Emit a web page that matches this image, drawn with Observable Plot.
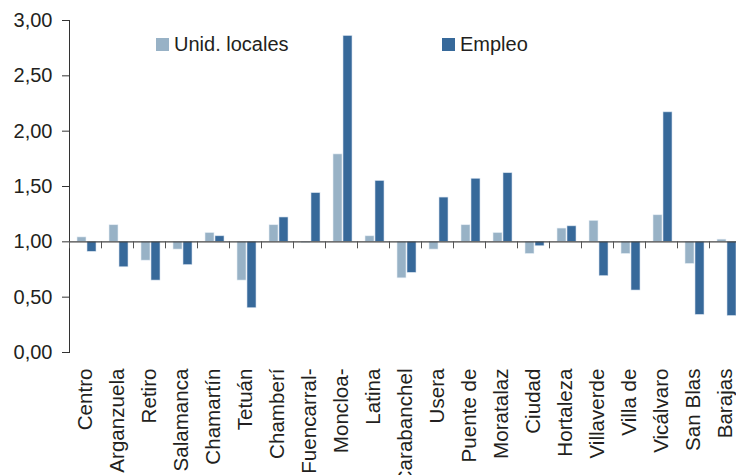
<!DOCTYPE html>
<html>
<head>
<meta charset="utf-8">
<script src="https://cdn.jsdelivr.net/npm/d3@7"></script>
<script src="https://cdn.jsdelivr.net/npm/@observablehq/plot@0.6"></script>
<style>
  html, body { margin: 0; padding: 0; background: #fff; overflow: hidden; }
  #wrap { position: relative; width: 736px; height: 475px; font-family: "Liberation Sans", Arial, sans-serif; }
  .leg { position: absolute; font-size: 20px; color: #231f20; display: flex; align-items: center; white-space: nowrap; }
  .sw { display: inline-block; width: 13px; height: 13px; margin-right: 5px; }
</style>
</head>
<body>
<div id="wrap"></div>
<script>
const categories = ["Centro", "Arganzuela", "Retiro", "Salamanca", "Chamartín", "Tetuán", "Chamberí", "Fuencarral-", "Moncloa-", "Latina", "Carabanchel", "Usera", "Puente de", "Moratalaz", "Ciudad", "Hortaleza", "Villaverde", "Villa de", "Vicálvaro", "San Blas", "Barajas"];
const unidLocales = [1.04, 1.15, 0.83, 0.93, 1.08, 0.65, 1.15, 0.99, 1.79, 1.05, 0.67, 0.93, 1.15, 1.08, 0.89, 1.12, 1.19, 0.89, 1.24, 0.80, 1.02];
const empleo = [0.91, 0.77, 0.65, 0.79, 1.05, 0.40, 1.22, 1.44, 2.86, 1.55, 0.72, 1.40, 1.57, 1.62, 0.96, 1.14, 0.69, 0.56, 2.17, 0.34, 0.33];
const yTicks = [0, 0.5, 1, 1.5, 2, 2.5, 3];
const seriesNames = ["Unid. locales", "Empleo"];
const colors = ["#98b2c6", "#37699a"];

const rowsU = categories.map((c, i) => ({cat: c, v: unidLocales[i]}));
const rowsE = categories.map((c, i) => ({cat: c, v: empleo[i]}));
const fmt = d => d3.format(".2f")(d).replace(".", ",");

const W = 736, H = 475, ML = 69, MT = 20, MB = 123;
const xRange = [ML, 741];
const step = (xRange[1] - xRange[0]) / categories.length;
const yPix = v => MT + (H - MT - MB) * (1 - v / 3);

const chart = Plot.plot({
  width: W, height: H,
  marginLeft: ML, marginTop: MT, marginBottom: MB, marginRight: 0,
  style: {fontFamily: '"Liberation Sans", Arial, sans-serif', fontSize: "20px", color: "#231f20", background: "white", overflow: "hidden"},
  x: {domain: categories, range: xRange, padding: 0, axis: null},
  y: {domain: [0, 3], axis: null},
  marks: [
    Plot.frame({anchor: "left", stroke: "#333", strokeWidth: 1}),
    Plot.axisY(yTicks, {tickSize: 7, tickPadding: 10, tickFormat: fmt, stroke: "#333", fontSize: 20, fill: "#231f20", label: null}),
    Plot.barY(rowsU, {x: "cat", y1: 1, y2: "v", fill: colors[0], insetLeft: 8, insetRight: 15, stroke: "#e6eef5", strokeWidth: 0.6}),
    Plot.barY(rowsE, {x: "cat", y1: 1, y2: "v", fill: colors[1], insetLeft: 18, insetRight: 5, stroke: "#d6e2ee", strokeWidth: 0.6}),
    Plot.ruleY([1], {stroke: "#444", strokeWidth: 1.2}),
    Plot.axisX(categories, {anchor: "bottom", tickSize: 7, tickFormat: () => "", dx: -step / 2, dy: yPix(1) - yPix(0), stroke: "#555", label: null}),
    Plot.text(categories, {x: d => d, frameAnchor: "bottom", rotate: -90, textAnchor: "end", lineAnchor: "middle", dy: 16, fontSize: 20.6, fill: "#231f20"})
  ]
});

const wrap = document.getElementById("wrap");
wrap.appendChild(chart);
const legPos = [[156, 33], [442, 33]];
seriesNames.forEach((n, i) => {
  const d = document.createElement("div");
  d.className = "leg";
  d.style.left = legPos[i][0] + "px";
  d.style.top = legPos[i][1] + "px";
  d.innerHTML = `<span class="sw" style="background:${colors[i]}"></span><span>${n}</span>`;
  wrap.appendChild(d);
});
</script>
</body>
</html>
